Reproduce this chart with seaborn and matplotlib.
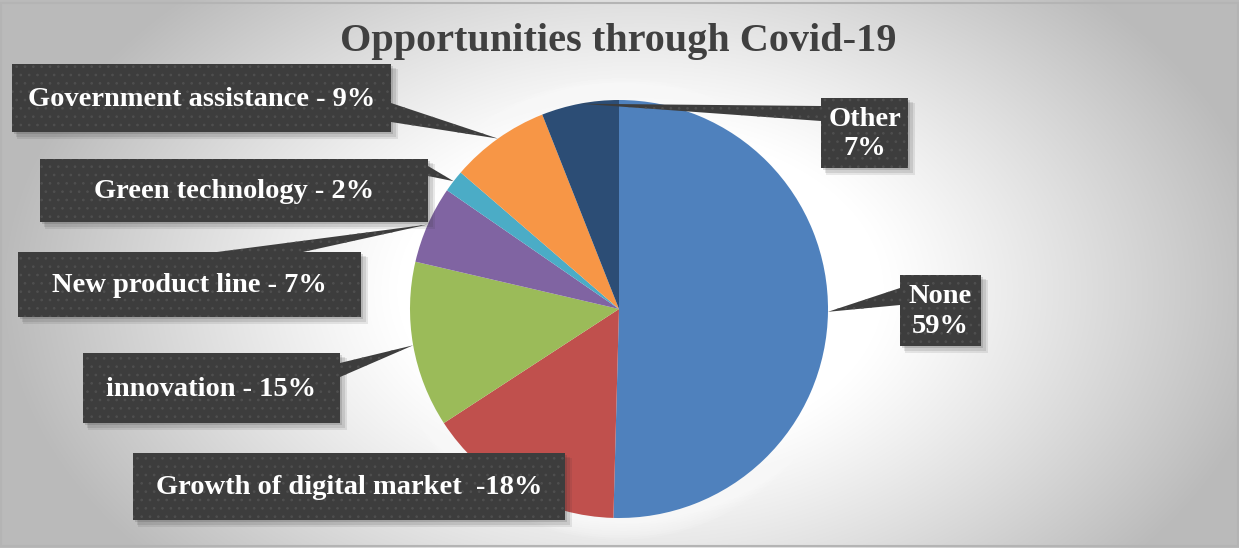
import numpy as np
import matplotlib
matplotlib.use("Agg")
import matplotlib.pyplot as plt
import seaborn as sns
from matplotlib.patches import Rectangle, Polygon, Circle

# ---- data ----
categories = ["None", "Growth of digital market", "innovation", "New product line",
              "Green technology", "Government assistance", "Other"]
shares = [59, 18, 15, 7, 2, 9, 7]
label_texts = ["None\n59%", "Growth of digital market  -18%", "innovation - 15%",
               "New product line - 7%", "Green technology - 2%",
               "Government assistance - 9%", "Other\n7%"]
slice_colors = ["#4F81BD", "#C0504D", "#9BBB59", "#8064A2", "#4BACC6", "#F79646", "#2C4D75"]
title = "Opportunities through Covid-19"

# ---- layout (pixel units, origin top-left) ----
W, H = 1239, 548
PIE_CENTER = (619, 309)
PIE_RADIUS = 209
# callout boxes: left, top, right, bottom
boxes = [(900, 275, 981, 346), (133, 453, 565, 520), (83, 353, 340, 423),
         (18, 252, 361, 317), (40, 159, 428, 222), (12, 64, 391, 132),
         (821, 98, 908, 168)]
# where each leader leaves its box (two base points); None = no leader
leader_bases = [((900, 288), (900, 305)), None, ((340, 363), (340, 377)),
                ((217, 252), (303, 252)), ((428, 166), (428, 176)),
                ((391, 103), (391, 122)), ((821, 106), (821, 121))]

sns.set_style("white")
plt.rcParams["font.family"] = ["Liberation Serif", "DejaVu Serif"]
plt.rcParams["hatch.linewidth"] = 0.7

fig = plt.figure(figsize=(W / 100, H / 100), dpi=100)
ax = fig.add_axes([0, 0, 1, 1])

palette = sns.color_palette(slice_colors)

# background: soft radial gradient, bright near the pie, grey towards the edges
yy, xx = np.mgrid[0:H, 0:W]
d = np.sqrt(((xx - 640) / 640.0) ** 2 + ((yy - 290) / 420.0) ** 2)
t = np.clip((d - 0.38) / 0.62, 0, 1) ** 1.1
bg = 1.0 - 0.27 * t
ax.imshow(np.dstack([bg, bg, bg]), extent=(0, W, H, 0), zorder=0, interpolation="bilinear")

# white halo behind the pie
for k in range(10):
    ax.add_patch(Circle(PIE_CENTER, PIE_RADIUS + 2 + 2.2 * k, color="white",
                        alpha=0.12, lw=0, zorder=1))

# pie: y axis runs downward, so counterclockwise in data reads clockwise on screen
wedges, _ = ax.pie(shares, colors=palette, startangle=-90, counterclock=True,
                   radius=PIE_RADIUS, center=PIE_CENTER,
                   wedgeprops=dict(linewidth=0, zorder=2), normalize=True)

box_face = "#3d3d3d"
dot_color = "#4f4f4f"


def dotted(patch_cls, *args, z=5):
    """Dark callout shape with a faint dot texture on top."""
    ax.add_patch(patch_cls(*args, facecolor=box_face, edgecolor="none", lw=0, zorder=z))
    ax.add_patch(patch_cls(*args, fill=False, edgecolor=dot_color, lw=0, hatch="..",
                           zorder=z + 0.1))


for i, (w, txt, box) in enumerate(zip(wedges, label_texts, boxes)):
    left, top, right, bottom = box
    # drop shadow
    for j, a in enumerate([0.10, 0.12, 0.16]):
        off = 6 - j * 1.5
        ax.add_patch(Rectangle((left + off - 1, top + off - 1), right - left + 2 - j,
                               bottom - top + 2 - j, color="#303030", alpha=a, lw=0, zorder=3))
    # leader wedge from the box to the middle of the slice edge
    base = leader_bases[i]
    if base is not None:
        mid = np.deg2rad(0.5 * (w.theta1 + w.theta2))
        tip = (w.center[0] + w.r * np.cos(mid), w.center[1] + w.r * np.sin(mid))
        dotted(Polygon, [base[0], tip, base[1]], z=4)
    dotted(Rectangle, (left, top), right - left, bottom - top, z=5)
    ax.text((left + right) / 2, (top + bottom) / 2 + 1, txt, color="white",
            fontsize=20.5, fontweight="bold", ha="center", va="center",
            linespacing=1.25, zorder=6)

ax.text(W / 2 - 1, 42, title, color="#404040", fontsize=29, fontweight="bold",
        ha="center", va="center", zorder=6)

# outer frame
ax.add_patch(Rectangle((1, 2.5), W - 2.5, H - 4.5, fill=False, edgecolor="#b4b4b4",
                       lw=1.5, zorder=7))

ax.set_xlim(0, W)
ax.set_ylim(H, 0)
ax.set_aspect("equal")
ax.set_axis_off()

fig.savefig("out.png", dpi=100)
